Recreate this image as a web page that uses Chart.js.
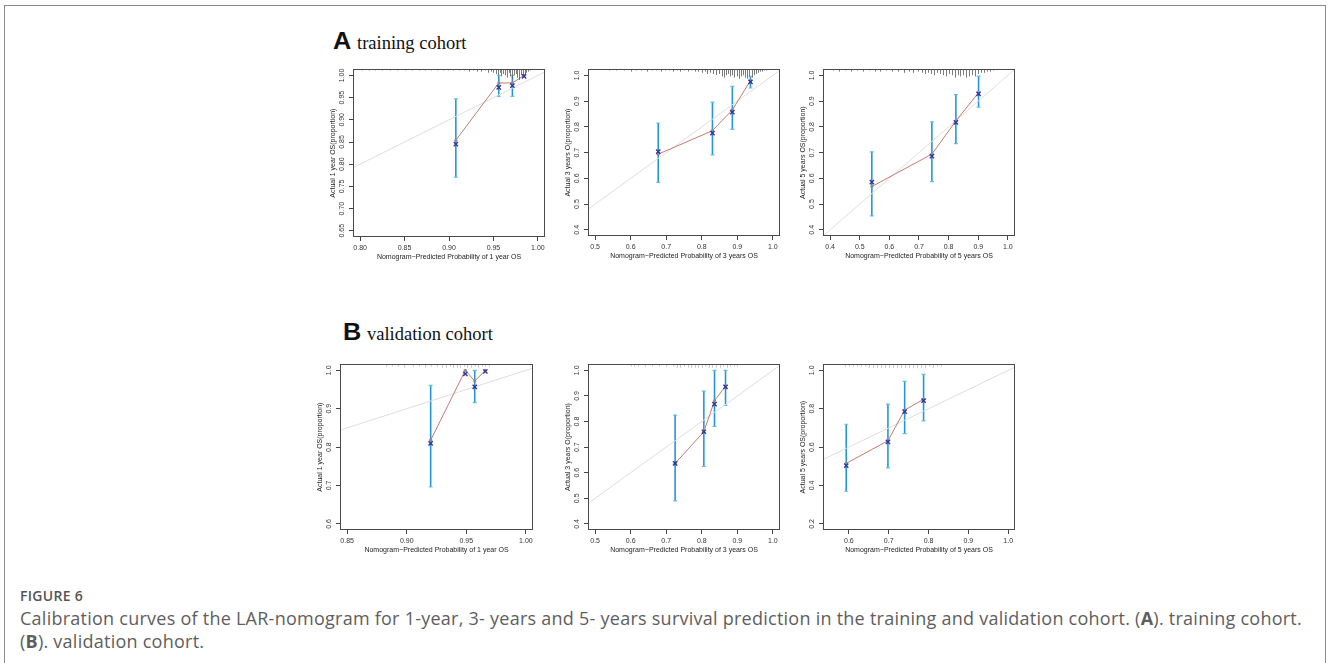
<!DOCTYPE html>
<html>
<head>
<meta charset="utf-8">
<script src="https://cdn.jsdelivr.net/npm/chart.js@4.4.1/dist/chart.umd.min.js"></script>
<style>
body{margin:0;background:#fff;width:1328px;height:663px;overflow:hidden;position:relative;font-family:"Liberation Sans",Arial,sans-serif}
.frame{position:absolute;left:4px;top:5px;width:1320px;height:700px;border:1px solid #8a8a8a;border-bottom:none}
.panel{position:absolute}
.head{position:absolute;white-space:nowrap;line-height:21px}
.head b{display:inline-block;width:19px;font-family:"Liberation Sans",Arial,sans-serif;font-size:23px;color:#111;transform:scaleX(1.1);transform-origin:left center}
.head span{font-family:"Liberation Serif","Times New Roman",serif;font-size:18.5px;color:#111;margin-left:5px}
.figlabel{position:absolute;left:20px;top:586px;font-family:"Open Sans",sans-serif;font-size:14px;font-weight:600;letter-spacing:0.3px;color:#555}
.caption{position:absolute;left:20px;top:607px;font-family:"Open Sans",sans-serif;font-size:18px;letter-spacing:0.25px;line-height:23px;color:#5e5e5e;white-space:nowrap}
</style>
</head>
<body>
<div class="frame"></div>
<div class="head" style="left:333px;top:31px"><b>A</b><span>training cohort</span></div>
<div class="head" style="left:343px;top:322px"><b>B</b><span>validation cohort</span></div>
<div class="figlabel">FIGURE 6</div>
<div class="caption">Calibration curves of the LAR-nomogram for 1-year, 3- years and 5- years survival prediction in the training and validation cohort. (<b>A</b>). training cohort.<br>(<b>B</b>). validation cohort.</div>

<script>
// ---- training cohort, 1 year ----
const a1Pred = [0.9077, 0.956, 0.9713, 0.9844];
const a1Obs  = [0.854, 0.983, 0.983, 1.0];
const a1Km   = [0.845, 0.973, 0.977, 0.998];
const a1Lo   = [0.771, 0.953, 0.953, 0.998];
const a1Hi   = [0.947, 1.0, 1.0, 0.998];
const a1XTicks = [0.80, 0.85, 0.90, 0.95, 1.00];
const a1YTicks = [0.65, 0.70, 0.75, 0.80, 0.85, 0.90, 0.95, 1.00];
const a1XRange = [0.792, 1.008];
const a1YRange = [0.636, 1.014];
const a1RugX = [0.802,0.81,0.817,0.825,0.834,0.841,0.85,0.858,0.866,0.873,0.88,0.887,0.893,0.899,0.905,0.911,0.917,0.922,0.927,0.932,0.936,0.94,0.944,0.947,0.95,0.953,0.955,0.957,0.959,0.961,0.963,0.965,0.967,0.969,0.971,0.973,0.975,0.977,0.979,0.981,0.983,0.985,0.987,0.989,0.991];
const a1RugN = [1,1,1,1,1,1,1,1,1,1,1,1,1,1,1,1,1,2,1,2,2,1,3,2,3,4,5,3,6,4,5,7,3,6,8,5,4,7,9,5,6,4,3,2,1];

// ---- training cohort, 3 years ----
const a2Pred = [0.6775, 0.830, 0.886, 0.937];
const a2Obs  = [0.694, 0.785, 0.866, 0.98];
const a2Km   = [0.704, 0.776, 0.857, 0.975];
const a2Lo   = [0.584, 0.691, 0.79, 0.951];
const a2Hi   = [0.815, 0.896, 0.957, 0.996];
const a2XTicks = [0.5, 0.6, 0.7, 0.8, 0.9, 1.0];
const a2YTicks = [0.4, 0.5, 0.6, 0.7, 0.8, 0.9, 1.0];
const a2XRange = [0.48, 1.02];
const a2YRange = [0.376, 1.024];
const a2RugX = [0.54,0.56,0.58,0.6,0.615,0.63,0.645,0.66,0.672,0.684,0.696,0.708,0.72,0.73,0.74,0.75,0.76,0.77,0.78,0.79,0.8,0.808,0.816,0.824,0.832,0.84,0.848,0.856,0.862,0.868,0.874,0.88,0.886,0.892,0.898,0.904,0.91,0.916,0.922,0.928,0.934,0.94,0.946,0.952,0.958,0.964,0.97,0.976,0.982];
const a2RugN = [1,1,1,2,1,1,2,1,1,2,1,1,2,1,2,1,2,1,2,2,3,2,4,3,4,5,4,6,7,5,4,6,5,7,6,8,6,5,7,8,6,7,5,4,3,2,2,1,1];

// ---- training cohort, 5 years ----
const a3Pred = [0.5408, 0.7435, 0.8245, 0.901];
const a3Obs  = [0.568, 0.694, 0.823, 0.933];
const a3Km   = [0.585, 0.686, 0.817, 0.928];
const a3Lo   = [0.454, 0.587, 0.735, 0.877];
const a3Hi   = [0.703, 0.819, 0.925, 0.997];
const a3XTicks = [0.4, 0.5, 0.6, 0.7, 0.8, 0.9, 1.0];
const a3YTicks = [0.4, 0.5, 0.6, 0.7, 0.8, 0.9, 1.0];
const a3XRange = [0.376, 1.024];
const a3YRange = [0.376, 1.024];
const a3RugX = [0.41,0.43,0.45,0.47,0.49,0.51,0.53,0.55,0.57,0.59,0.61,0.63,0.65,0.665,0.68,0.695,0.71,0.72,0.73,0.74,0.75,0.76,0.77,0.78,0.79,0.8,0.81,0.82,0.83,0.84,0.85,0.86,0.87,0.88,0.89,0.9,0.91,0.92,0.93,0.94,0.95];
const a3RugN = [1,2,1,2,1,2,1,2,2,1,2,2,3,2,3,2,3,4,3,4,5,3,4,5,6,4,5,7,5,6,5,7,6,5,6,4,3,3,2,2,1];

// ---- validation cohort, 1 year ----
const b1Pred = [0.9201, 0.9492, 0.9571, 0.966];
const b1Obs  = [0.818, 1.0, 0.972, 1.0];
const b1Km   = [0.81, 0.991, 0.957, 0.997];
const b1Lo   = [0.696, 0.991, 0.916, 0.997];
const b1Hi   = [0.961, 0.991, 1.0, 0.997];
const b1XTicks = [0.85, 0.90, 0.95, 1.00];
const b1YTicks = [0.6, 0.7, 0.8, 0.9, 1.0];
const b1XRange = [0.844, 1.006];
const b1YRange = [0.584, 1.016];
const b1RugX = [0.883,0.888,0.893,0.898,0.905,0.91,0.915,0.92,0.925,0.93,0.933,0.936,0.939,0.942,0.945,0.948,0.951,0.954,0.957,0.96,0.963,0.966,0.969];
const b1RugN = [2,2,2,3,2,2,3,2,2,3,3,2,3,3,3,2,3,3,2,3,2,2,2];

// ---- validation cohort, 3 years ----
const b2Pred = [0.725, 0.8058, 0.8358, 0.8668];
const b2Obs  = [0.636, 0.76, 0.881, 0.939];
const b2Km   = [0.636, 0.76, 0.868, 0.935];
const b2Lo   = [0.49, 0.625, 0.781, 0.863];
const b2Hi   = [0.825, 0.919, 1.0, 1.0];
const b2XTicks = [0.5, 0.6, 0.7, 0.8, 0.9, 1.0];
const b2YTicks = [0.4, 0.5, 0.6, 0.7, 0.8, 0.9, 1.0];
const b2XRange = [0.48, 1.02];
const b2YRange = [0.376, 1.024];
const b2RugX = [0.6,0.61,0.62,0.64,0.66,0.68,0.7,0.72,0.73,0.74,0.75,0.76,0.77,0.78,0.79,0.8,0.81,0.82,0.83,0.84,0.85,0.86,0.87,0.88,0.89,0.9];
const b2RugN = [2,2,2,2,2,2,2,2,3,3,2,3,3,3,3,3,2,3,3,3,3,2,3,2,2,2];

// ---- validation cohort, 5 years ----
const b3Pred = [0.5933, 0.698, 0.74, 0.7875];
const b3Obs  = [0.515, 0.633, 0.793, 0.849];
const b3Km   = [0.504, 0.627, 0.785, 0.842];
const b3Lo   = [0.37, 0.492, 0.67, 0.737];
const b3Hi   = [0.719, 0.824, 0.943, 0.979];
const b3XTicks = [0.6, 0.7, 0.8, 0.9, 1.0];
const b3YTicks = [0.2, 0.4, 0.6, 0.8, 1.0];
const b3XRange = [0.535, 1.017];
const b3YRange = [0.168, 1.032];
const b3RugX = [0.59,0.6,0.61,0.62,0.63,0.64,0.65,0.66,0.67,0.68,0.69,0.7,0.71,0.72,0.73,0.74,0.75,0.76,0.77,0.78,0.79,0.8,0.81,0.82,0.83];
const b3RugN = [2,2,2,2,2,2,3,3,3,3,3,3,3,3,3,3,3,3,3,3,3,2,3,2,2];

const AXIS_W = 30, AXIS_H = 26, PAD_T = 6, PAD_R = 6;

// draws error bars, rug, y tick labels and the box
const calibPlugin = {
  id: 'calib',
  beforeDatasetsDraw(chart) {
    const d = chart.options.calib, ctx = chart.ctx;
    const xs = chart.scales.x, ys = chart.scales.y;
    ctx.save();
    d.pred.forEach((p, i) => {
      if (d.lo[i] === d.hi[i]) return;
      const x = xs.getPixelForValue(p);
      const y1 = ys.getPixelForValue(d.lo[i]), y2 = ys.getPixelForValue(d.hi[i]);
      ctx.strokeStyle = '#2596d4';
      ctx.lineWidth = 1.6;
      ctx.beginPath(); ctx.moveTo(x, y1); ctx.lineTo(x, y2); ctx.stroke();
      ctx.strokeStyle = '#63bfe8';
      ctx.lineWidth = 1.2;
      ctx.beginPath();
      ctx.moveTo(x - 2, y1); ctx.lineTo(x + 2, y1);
      ctx.moveTo(x - 2, y2); ctx.lineTo(x + 2, y2);
      ctx.stroke();
    });
    ctx.restore();
  },
  afterDraw(chart) {
    const d = chart.options.calib, ctx = chart.ctx, ca = chart.chartArea;
    const xs = chart.scales.x, ys = chart.scales.y;
    ctx.save();
    // rug of predicted values along the top
    ctx.strokeStyle = d.rugColor;
    ctx.lineWidth = 0.8;
    d.rugX.forEach((v, i) => {
      const x = Math.round(xs.getPixelForValue(v)) + 0.5;
      ctx.beginPath(); ctx.moveTo(x, ca.top); ctx.lineTo(x, ca.top + d.rugN[i] * d.rugUnit); ctx.stroke();
    });
    // box
    ctx.strokeStyle = '#4a4a4a';
    ctx.lineWidth = 1;
    ctx.strokeRect(Math.round(ca.left) + 0.5, Math.round(ca.top) + 0.5, Math.round(ca.right - ca.left) - 1, Math.round(ca.bottom - ca.top) - 1);
    // rotated y tick labels, R style
    ctx.font = '7px "Liberation Sans", Arial, sans-serif';
    ctx.fillStyle = '#333';
    ctx.textAlign = 'center';
    ctx.textBaseline = 'middle';
    ys.ticks.forEach(t => {
      const y = ys.getPixelForValue(t.value);
      ctx.save();
      ctx.translate(ca.left - 11, y);
      ctx.rotate(-Math.PI / 2);
      ctx.fillText(t.value.toFixed(d.yDec), 0, 0);
      ctx.restore();
    });
    ctx.restore();
  }
};

function makePanel(box, d) {
  const [L, T, R, B] = box;
  const wrap = document.createElement('div');
  wrap.className = 'panel';
  const w = R - L + AXIS_W + PAD_R, h = B - T + PAD_T + AXIS_H;
  wrap.style.left = (L - AXIS_W) + 'px';
  wrap.style.top = (T - PAD_T) + 'px';
  wrap.style.width = w + 'px';
  wrap.style.height = h + 'px';
  const cv = document.createElement('canvas');
  cv.width = w; cv.height = h;
  wrap.appendChild(cv);
  document.body.appendChild(wrap);

  const font = {family: '"Liberation Sans", Arial, sans-serif', size: 7};
  new Chart(cv, {
    type: 'scatter',
    data: {
      datasets: [
        {
          type: 'line',
          data: [{x: d.xRange[0], y: d.xRange[0]}, {x: d.xRange[1], y: d.xRange[1]}],
          borderColor: '#dedede', borderWidth: 1, pointRadius: 0, order: 3
        },
        {
          type: 'line',
          data: d.pred.map((x, i) => ({x, y: d.obs[i]})),
          borderColor: '#c47b6b', borderWidth: 1,
          pointRadius: 1.6, pointBackgroundColor: '#8c8c8c', pointBorderWidth: 0,
          clip: false, order: 2
        },
        {
          data: d.pred.map((x, i) => ({x, y: d.km[i]})),
          pointStyle: 'crossRot', pointRadius: 3,
          borderColor: '#3434a0', borderWidth: 1.4,
          clip: false, order: 0
        }
      ]
    },
    options: {
      responsive: false,
      animation: false,
      events: [],
      layout: {padding: {top: PAD_T, right: PAD_R, left: 0, bottom: 0}},
      plugins: {legend: {display: false}, tooltip: {enabled: false}},
      calib: d,
      scales: {
        x: {
          type: 'linear', min: d.xRange[0], max: d.xRange[1],
          afterBuildTicks: s => { s.ticks = d.xTicks.map(v => ({value: v})); },
          afterFit: s => { s.height = AXIS_H; },
          ticks: {font, color: '#333', padding: 3, maxRotation: 0, autoSkip: false,
                  callback: v => v.toFixed(d.xDec)},
          grid: {drawOnChartArea: false, tickLength: 4, tickColor: '#444'},
          border: {display: false},
          title: {display: true, text: d.xTitle, font, color: '#222', padding: {top: 0, bottom: 2}}
        },
        y: {
          type: 'linear', min: d.yRange[0], max: d.yRange[1],
          afterBuildTicks: s => { s.ticks = d.yTicks.map(v => ({value: v})); },
          afterFit: s => { s.width = AXIS_W; },
          ticks: {font, color: 'rgba(0,0,0,0)', padding: 3},
          grid: {drawOnChartArea: false, tickLength: 4, tickColor: '#444'},
          border: {display: false},
          title: {display: true, text: d.yTitle, font, color: '#222', padding: {top: 6, bottom: 0}}
        }
      }
    },
    plugins: [calibPlugin]
  });
}

const rugDark = '#5a5a5a', rugLight = '#bdbdbd';

makePanel([353, 68, 545, 237], {
  pred: a1Pred, obs: a1Obs, km: a1Km, lo: a1Lo, hi: a1Hi,
  xTicks: a1XTicks, yTicks: a1YTicks, xRange: a1XRange, yRange: a1YRange, xDec: 2, yDec: 2,
  rugX: a1RugX, rugN: a1RugN, rugColor: rugDark, rugUnit: 1.2,
  xTitle: 'Nomogram\u2212Predicted Probability of 1 year OS', yTitle: 'Actual 1 year OS(proportion)'
});
makePanel([588, 68, 780, 236], {
  pred: a2Pred, obs: a2Obs, km: a2Km, lo: a2Lo, hi: a2Hi,
  xTicks: a2XTicks, yTicks: a2YTicks, xRange: a2XRange, yRange: a2YRange, xDec: 1, yDec: 1,
  rugX: a2RugX, rugN: a2RugN, rugColor: rugDark, rugUnit: 1.2,
  xTitle: 'Nomogram\u2212Predicted Probability of 3 years OS', yTitle: 'Actual 3 years O(proportion)'
});
makePanel([823, 68, 1015, 236], {
  pred: a3Pred, obs: a3Obs, km: a3Km, lo: a3Lo, hi: a3Hi,
  xTicks: a3XTicks, yTicks: a3YTicks, xRange: a3XRange, yRange: a3YRange, xDec: 1, yDec: 1,
  rugX: a3RugX, rugN: a3RugN, rugColor: rugDark, rugUnit: 1.2,
  xTitle: 'Nomogram\u2212Predicted Probability of 5 years OS', yTitle: 'Actual 5 years OS(proportion)'
});
makePanel([340, 363, 533, 530], {
  pred: b1Pred, obs: b1Obs, km: b1Km, lo: b1Lo, hi: b1Hi,
  xTicks: b1XTicks, yTicks: b1YTicks, xRange: b1XRange, yRange: b1YRange, xDec: 2, yDec: 1,
  rugX: b1RugX, rugN: b1RugN, rugColor: rugLight, rugUnit: 1.2,
  xTitle: 'Nomogram\u2212Predicted Probability of 1 year OS', yTitle: 'Actual 1 year OS(proportion)'
});
makePanel([588, 363, 780, 530], {
  pred: b2Pred, obs: b2Obs, km: b2Km, lo: b2Lo, hi: b2Hi,
  xTicks: b2XTicks, yTicks: b2YTicks, xRange: b2XRange, yRange: b2YRange, xDec: 1, yDec: 1,
  rugX: b2RugX, rugN: b2RugN, rugColor: rugLight, rugUnit: 1.2,
  xTitle: 'Nomogram\u2212Predicted Probability of 3 years OS', yTitle: 'Actual 3 years O(proportion)'
});
makePanel([823, 363, 1015, 530], {
  pred: b3Pred, obs: b3Obs, km: b3Km, lo: b3Lo, hi: b3Hi,
  xTicks: b3XTicks, yTicks: b3YTicks, xRange: b3XRange, yRange: b3YRange, xDec: 1, yDec: 1,
  rugX: b3RugX, rugN: b3RugN, rugColor: rugLight, rugUnit: 1.2,
  xTitle: 'Nomogram\u2212Predicted Probability of 5 years OS', yTitle: 'Actual 5 years OS(proportion)'
});
</script>
</body>
</html>
